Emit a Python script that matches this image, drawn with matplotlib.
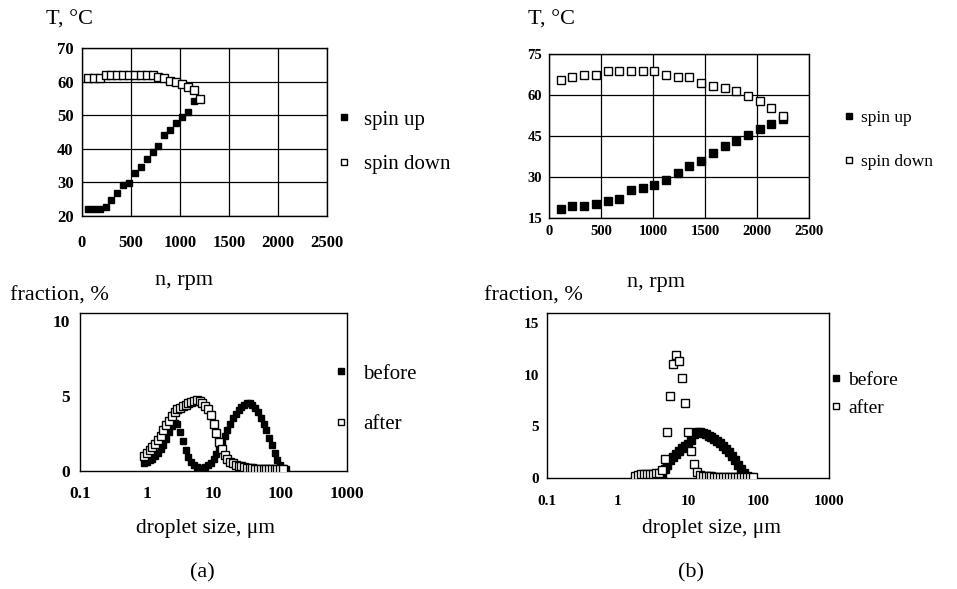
import matplotlib.pyplot as plt

plt.rcParams['font.family'] = ['Liberation Serif', 'DejaVu Serif']

W, H = 957, 589

# ---- (a) top: temperature vs rotation speed
rpm_up_a = [60, 120, 180, 240, 300, 360, 420, 480, 540, 600, 660, 720, 780, 840, 900, 960, 1020, 1080, 1140]
spin_up_a = [22.1, 22.1, 22.1, 22.8, 24.8, 26.8, 29.2, 29.9, 32.9, 34.7, 36.9, 38.9, 40.7, 44.2, 45.6, 47.8, 49.6, 51.1, 54.3]
rpm_down_a = [60, 120, 180, 240, 300, 360, 420, 480, 540, 600, 660, 720, 780, 840, 900, 960, 1020, 1080, 1140, 1200]
spin_down_a = [61.2, 61.2, 61.2, 62.0, 62.0, 62.0, 62.0, 62.0, 62.0, 62.0, 62.0, 62.0, 61.4, 61.0, 60.3, 60.0, 59.4, 58.4, 57.4, 54.9]

# ---- (b) top
rpm_b = [112.5, 225, 337.5, 450, 562.5, 675, 787.5, 900, 1012.5, 1125, 1237.5, 1350, 1462.5, 1575,
         1687.5, 1800, 1912.5, 2025, 2137.5, 2250]
spin_up_b = [18.3, 19.3, 19.3, 20.2, 21.1, 22.1, 25.1, 26.0, 27.2, 28.8, 31.5, 33.9, 35.7, 38.8, 41.5, 43.3, 45.5, 47.6, 49.5, 51.2]
spin_down_b = [65.6, 66.6, 67.4, 67.4, 68.7, 68.7, 68.7, 68.7, 68.7, 67.4, 66.6, 66.6, 64.4, 63.4, 62.6, 61.3, 59.5, 57.7, 55.2, 52.4]

# ---- droplet size bins (um), shared by the bottom panels
size_bins = [0.825, 0.909, 1.000, 1.101, 1.212, 1.334, 1.468, 1.616, 1.778, 1.957,
             2.154, 2.371, 2.610, 2.873, 3.162, 3.481, 3.831, 4.217, 4.642, 5.109,
             5.623, 6.190, 6.813, 7.499, 8.254, 9.085, 10.00, 11.01, 12.12, 13.34,
             14.68, 16.16, 17.78, 19.57, 21.54, 23.71, 26.10, 28.73, 31.62, 34.81,
             38.31, 42.17, 46.42, 51.09, 56.23, 61.90, 68.13, 74.99, 82.54, 90.85,
             100.0, 110.1, 121.2]

# (a) before: bins 1..52, after: bins 1..51
before_a = [0.5, 0.6, 0.7, 0.8, 1.0, 1.2, 1.45, 1.75, 2.15, 2.6,
            3.0, 3.2, 3.1, 2.6, 2.0, 1.4, 0.95, 0.6, 0.4, 0.28,
            0.22, 0.22, 0.28, 0.38, 0.55, 0.8, 1.1, 1.45, 1.85, 2.3,
            2.75, 3.15, 3.5, 3.8, 4.05, 4.25, 4.4, 4.5, 4.5, 4.4,
            4.2, 3.9, 3.55, 3.15, 2.7, 2.2, 1.7, 1.2, 0.75, 0.4,
            0.2, 0.1]
after_a = [1.0, 1.2, 1.4, 1.6, 1.8, 2.05, 2.35, 2.7, 3.05, 3.35,
           3.65, 3.9, 4.1, 4.2, 4.3, 4.4, 4.5, 4.6, 4.65, 4.7,
           4.65, 4.5, 4.35, 4.1, 3.7, 3.1, 2.5, 1.9, 1.45, 1.05,
           0.8, 0.62, 0.5, 0.42, 0.35, 0.3, 0.25, 0.22, 0.2, 0.18,
           0.16, 0.15, 0.14, 0.13, 0.12, 0.11, 0.1, 0.1, 0.1, 0.1,
           0.1]

# (b) before: bins 16..47, after: bins 8..48
before_b = [0.1, 0.4, 0.9, 1.3, 1.7, 2.0, 2.3, 2.6, 2.9, 3.1,
            3.3, 3.7, 4.3, 4.5, 4.45, 4.35, 4.25, 4.1, 3.95, 3.8,
            3.6, 3.35, 3.1, 2.8, 2.5, 2.15, 1.75, 1.3, 0.85, 0.45,
            0.15, 0.03]
after_b = [0.2, 0.3, 0.35, 0.4, 0.4, 0.4, 0.4, 0.45, 0.5, 0.8,
           1.8, 4.5, 8.0, 11.1, 11.9, 11.3, 9.7, 7.3, 4.5, 2.65,
           1.4, 0.55, 0.25, 0.18, 0.16, 0.15, 0.15, 0.14, 0.14, 0.13,
           0.13, 0.12, 0.12, 0.11, 0.11, 0.1, 0.1, 0.1, 0.1, 0.1,
           0.1]

fig = plt.figure(figsize=(W / 100, H / 100), dpi=100)


def px_axes(l, t, r, b):
    return fig.add_axes([l / W, 1 - b / H, (r - l) / W, (b - t) / H])


def px_text(x, y, s, size, ha='center', va='center', **kw):
    fig.text(x / W, 1 - y / H, s, fontsize=size, ha=ha, va=va, **kw)


def style(ax, xpad, ypad, size, weight):
    for sp in ax.spines.values():
        sp.set_linewidth(1.0)
        sp.set_color('black')
    ax.tick_params(length=0, labelsize=size)
    ax.tick_params(axis='x', pad=xpad)
    ax.tick_params(axis='y', pad=ypad)
    for lab in ax.get_xticklabels() + ax.get_yticklabels():
        lab.set_fontweight(weight)


def add_legend(ax, x, y, size, spacing, textpad):
    ax.legend(loc='upper left', bbox_to_anchor=(x / W, 1 - y / H), bbox_transform=fig.transFigure,
              frameon=False, fontsize=size, handlelength=0.5, handletextpad=textpad,
              labelspacing=spacing, borderpad=0, borderaxespad=0, markerscale=0.8)


# ---------- top left
ax1 = px_axes(82, 48, 327, 216)
ax1.plot(rpm_up_a, spin_up_a, 's', color='black', ms=5, label='spin up', zorder=3)
ax1.plot(rpm_down_a, spin_down_a, 's', mfc='white', mec='black', mew=1.0, ms=5.5, label='spin down', zorder=4)
ax1.set_xlim(0, 2500)
ax1.set_ylim(20, 70)
ax1.set_xticks(range(0, 2501, 500))
ax1.set_yticks(range(20, 71, 10))
ax1.grid(True, color='black', lw=0.9)
ax1.set_axisbelow(True)
style(ax1, 14, 6, 12, 'bold')
add_legend(ax1, 339, 110, 15, 1.2, 0.7)

# ---------- top right
ax2 = px_axes(549, 54, 809, 218)
ax2.plot(rpm_b, spin_up_b, 's', color='black', ms=5.5, label='spin up', zorder=3)
ax2.plot(rpm_b, spin_down_b, 's', mfc='white', mec='black', mew=1.0, ms=6, label='spin down', zorder=4)
ax2.set_xlim(0, 2500)
ax2.set_ylim(15, 75)
ax2.set_xticks(range(0, 2501, 500))
ax2.set_yticks(range(15, 76, 15))
ax2.grid(True, color='black', lw=0.9)
ax2.set_axisbelow(True)
style(ax2, 5, 5, 10.5, 'bold')
add_legend(ax2, 845, 110, 12.5, 1.6, 0.4)

# ---------- bottom left
ax3 = px_axes(80, 313, 347, 471)
ax3.plot(size_bins[1:53], before_a, 's', color='black', ms=5, label='before', zorder=3)
ax3.plot(size_bins[1:52], after_a, 's', mfc='white', mec='black', mew=1.0, ms=5.5, label='after', zorder=4)
ax3.set_xscale('log')
ax3.set_xlim(0.1, 1000)
ax3.set_ylim(0, 10.5)
ax3.set_xticks([0.1, 1, 10, 100, 1000], ['0.1', '1', '10', '100', '1000'])
ax3.minorticks_off()
ax3.set_yticks([0, 5, 10])
style(ax3, 11, 7, 12.5, 'bold')
add_legend(ax3, 336, 364, 15, 1.5, 0.8)

# ---------- bottom right
ax4 = px_axes(547, 313, 829, 478)
ax4.plot(size_bins[16:48], before_b, 's', color='black', ms=5.5, label='before', zorder=3)
ax4.plot(size_bins[8:49], after_b, 's', mfc='white', mec='black', mew=1.0, ms=6, label='after', zorder=4)
ax4.set_xscale('log')
ax4.set_xlim(0.1, 1000)
ax4.set_ylim(0, 16)
ax4.set_xticks([0.1, 1, 10, 100, 1000], ['0.1', '1', '10', '100', '1000'])
ax4.minorticks_off()
ax4.set_yticks([0, 5, 10, 15])
style(ax4, 12, 6, 11, 'bold')
add_legend(ax4, 831, 371, 14, 0.55, 0.4)

# ---------- axis titles and captions
px_text(69, 20, 'T, \u00b0C', 16)
px_text(551, 20, 'T, \u00b0C', 16)
px_text(184, 281, 'n, rpm', 16)
px_text(656, 283, 'n, rpm', 16)
px_text(10, 296, 'fraction, %', 16, ha='left')
px_text(484, 296, 'fraction, %', 16, ha='left')
px_text(205, 528, 'droplet size, \u03bcm', 15.5)
px_text(712, 528, 'droplet size, \u03bcm', 15.5)
px_text(202, 573, '(a)', 16)
px_text(691, 573, '(b)', 16)

fig.savefig('out.png', dpi=100)
